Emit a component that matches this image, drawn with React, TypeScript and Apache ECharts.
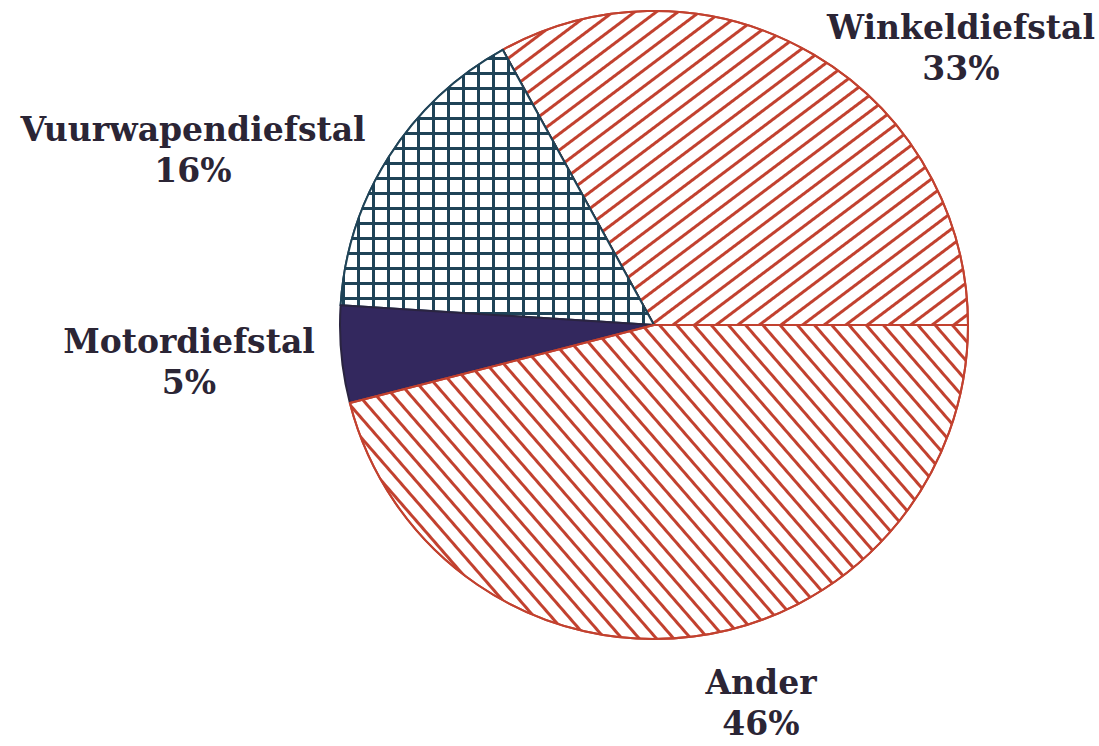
import React, { useEffect, useRef } from "react";
import * as echarts from "echarts";

const categories = ["Winkeldiefstal", "Vuurwapendiefstal", "Motordiefstal", "Ander"];
const values = [33, 16, 5, 46];

// label anchor points (layout, not data)
const labelPos: [number, number][] = [
  [961, 48],
  [193, 150],
  [189, 362],
  [761, 703],
];

const RED = "#c2412f";
const TEAL = "#1f4357";
const INDIGO = "#33285e";

const styles = [
  {
    color: "#ffffff",
    borderColor: RED,
    decal: {
      symbol: "rect",
      symbolSize: 1,
      dashArrayX: [1, 0],
      dashArrayY: [2.4, 9.4],
      rotation: (-37 * Math.PI) / 180,
      color: RED,
    },
  },
  {
    color: TEAL,
    borderColor: TEAL,
    decal: {
      symbol: "rect",
      symbolSize: 1,
      dashArrayX: [12, 3],
      dashArrayY: [12, 3],
      rotation: 0,
      color: "#ffffff",
    },
  },
  { color: INDIGO, borderColor: "#2a2440" },
  {
    color: "#ffffff",
    borderColor: RED,
    decal: {
      symbol: "rect",
      symbolSize: 1,
      dashArrayX: [1, 0],
      dashArrayY: [2.4, 9.8],
      rotation: (49 * Math.PI) / 180,
      color: RED,
    },
  },
];

export default function App() {
  const ref = useRef<HTMLDivElement>(null);
  useEffect(() => {
    if (!ref.current) return;
    const chart = echarts.init(ref.current, undefined, { renderer: "svg" });
    chart.setOption({
      animation: false,
      backgroundColor: "#ffffff",
      series: [
        {
          type: "pie",
          center: [654, 325],
          radius: 314,
          startAngle: 0,
          clockwise: false,
          avoidLabelOverlap: false,
          label: {
            show: true,
            formatter: (p: any) => `${p.name}\n${Math.round(p.percent)}%`,
            fontFamily: "DejaVu Serif",
            fontWeight: "bold",
            fontSize: 33,
            lineHeight: 41,
            color: "#2b2535",
            align: "center",
          },
          labelLine: { show: false },
          labelLayout: (params: any) => ({
            x: labelPos[params.dataIndex][0],
            y: labelPos[params.dataIndex][1],
            align: "center",
            verticalAlign: "middle",
          }),
          emphasis: { disabled: true },
          data: categories.map((name, i) => ({
            name,
            value: values[i],
            itemStyle: { borderWidth: 2, ...styles[i] },
          })),
        },
      ],
    });
    return () => chart.dispose();
  }, []);
  return (
    <div
      ref={ref}
      style={{ position: "absolute", left: 0, top: 0, width: 1099, height: 746 }}
    />
  );
}
